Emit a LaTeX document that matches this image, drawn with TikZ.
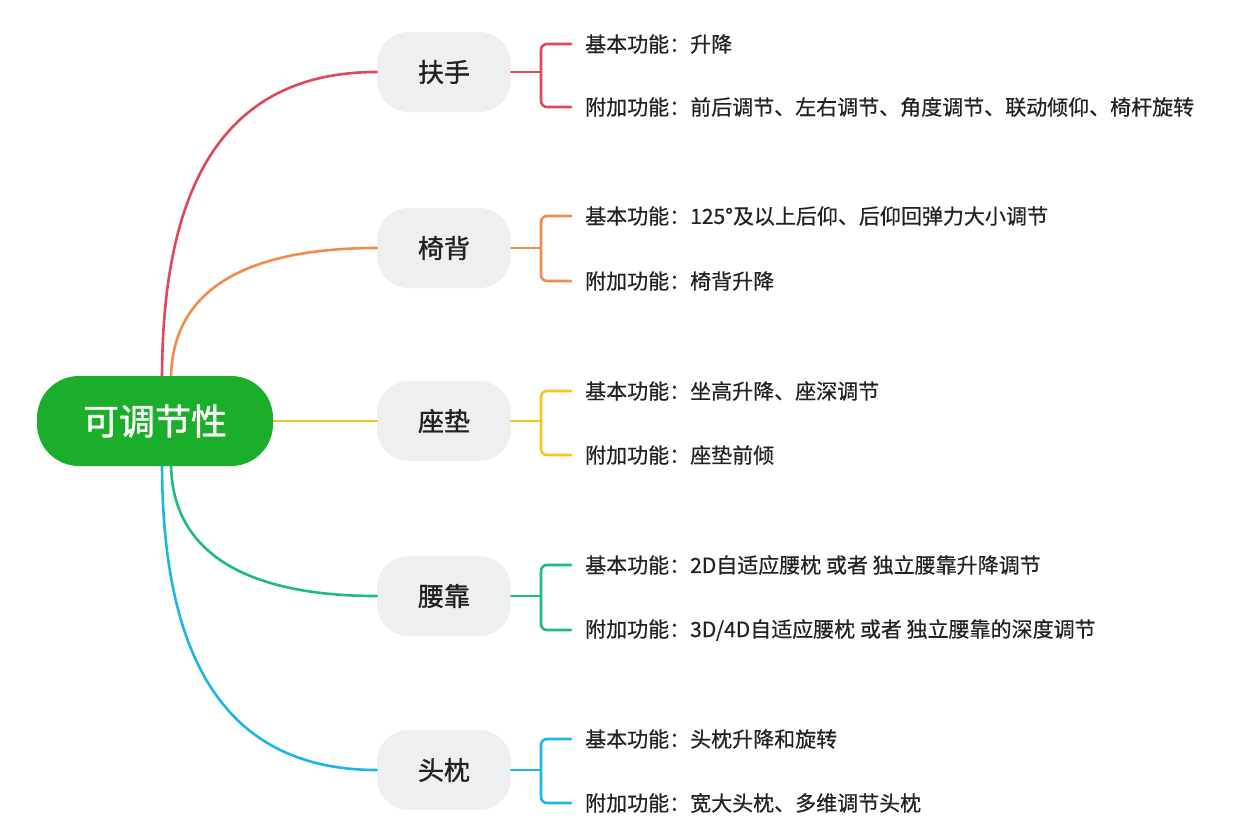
\documentclass[tikz,border=0pt]{standalone}
\usepackage{fontspec}
\setmainfont{Noto Sans CJK SC}
\newfontfamily\medf[FakeBold=0.5]{Noto Sans CJK SC}
\newfontfamily\boldf[FakeBold=1.2]{Noto Sans CJK SC}
\definecolor{cRed}{HTML}{E0475A}
\definecolor{cOrange}{HTML}{F08C4A}
\definecolor{cYellow}{HTML}{F6C61E}
\definecolor{cGreen}{HTML}{1DBA85}
\definecolor{cBlue}{HTML}{1CB5E8}
\definecolor{rootGreen}{HTML}{1AAE2B}
\definecolor{pillGray}{HTML}{EDEFF1}
\definecolor{txt}{HTML}{222222}
\begin{document}
\begin{tikzpicture}[x=1pt,y=-1pt,
  rootbox/.style={fill=rootGreen,text=white,minimum width=236pt,minimum height=90pt,rounded corners=42pt,font=\boldf\fontsize{36}{42}\selectfont,inner sep=0pt},
  pillbox/.style={fill=pillGray,text=txt,minimum width=134pt,minimum height=80pt,rounded corners=32pt,font=\boldf\fontsize{26}{30}\selectfont,inner sep=0pt},
  leaf/.style={anchor=west,inner sep=0pt,text=txt,font=\medf\fontsize{21}{25}\selectfont},
  conn/.style={line width=2.6pt,line cap=round},
  brk/.style={line width=2.6pt,rounded corners=6pt,line cap=round}]
\useasboundingbox (0,0) rectangle (1253,830);
\fill[white] (0,0) rectangle (1253,830);

% branch pills
\node[pillbox] (b1) at (444,72) {扶手};
\node[pillbox] (b2) at (444,248) {椅背};
\node[pillbox] (b3) at (444,421) {座垫};
\node[pillbox] (b4) at (444,596) {腰靠};
\node[pillbox] (b5) at (444,770) {头枕};

% connectors from root (drawn before root so root covers their starts)
\coordinate (r1) at (162,380);
\coordinate (r2) at (171,380);
\coordinate (r3) at (270,421);
\coordinate (r4) at (171,462);
\coordinate (r5) at (162,462);
\draw[conn,cRed] (r1) to[out=90,in=180,looseness=1.15] (b1.west);
\draw[conn,cOrange] (r2) to[out=90,in=180,looseness=1.1] (b2.west);
\draw[conn,cYellow] (r3) -- (b3.west);
\draw[conn,cGreen] (r4) to[out=-90,in=180,looseness=1.1] (b4.west);
\draw[conn,cBlue] (r5) to[out=-90,in=180,looseness=1.15] (b5.west);

\node[rootbox] (root) at (155,421) {可调节性};

% leaves
\node[leaf] (l1a) at (585,44) {基本功能：升降};
\node[leaf] (l1b) at (585,107) {附加功能：前后调节、左右调节、角度调节、联动倾仰、椅杆旋转};
\node[leaf] (l2a) at (585,216) {基本功能：125°及以上后仰、后仰回弹力大小调节};
\node[leaf] (l2b) at (585,281) {附加功能：椅背升降};
\node[leaf] (l3a) at (585,391) {基本功能：坐高升降、座深调节};
\node[leaf] (l3b) at (585,455) {附加功能：座垫前倾};
\node[leaf] (l4a) at (585,565) {基本功能：2D自适应腰枕 或者 独立腰靠升降调节};
\node[leaf] (l4b) at (585,630) {附加功能：3D/4D自适应腰枕 或者 独立腰靠的深度调节};
\node[leaf] (l5a) at (585,739) {基本功能：头枕升降和旋转};
\node[leaf] (l5b) at (585,803) {附加功能：宽大头枕、多维调节头枕};

% brackets
\foreach \i/\c in {1/cRed,2/cOrange,3/cYellow,4/cGreen,5/cBlue}{
  \draw[conn,\c] (b\i.east) -- ([xshift=29pt]b\i.east);
  \draw[brk,\c] ([xshift=-14pt]l\i a.west) -- ([xshift=-44pt]l\i a.west) -- ([xshift=-44pt]l\i b.west) -- ([xshift=-14pt]l\i b.west);
}
\end{tikzpicture}
\end{document}
